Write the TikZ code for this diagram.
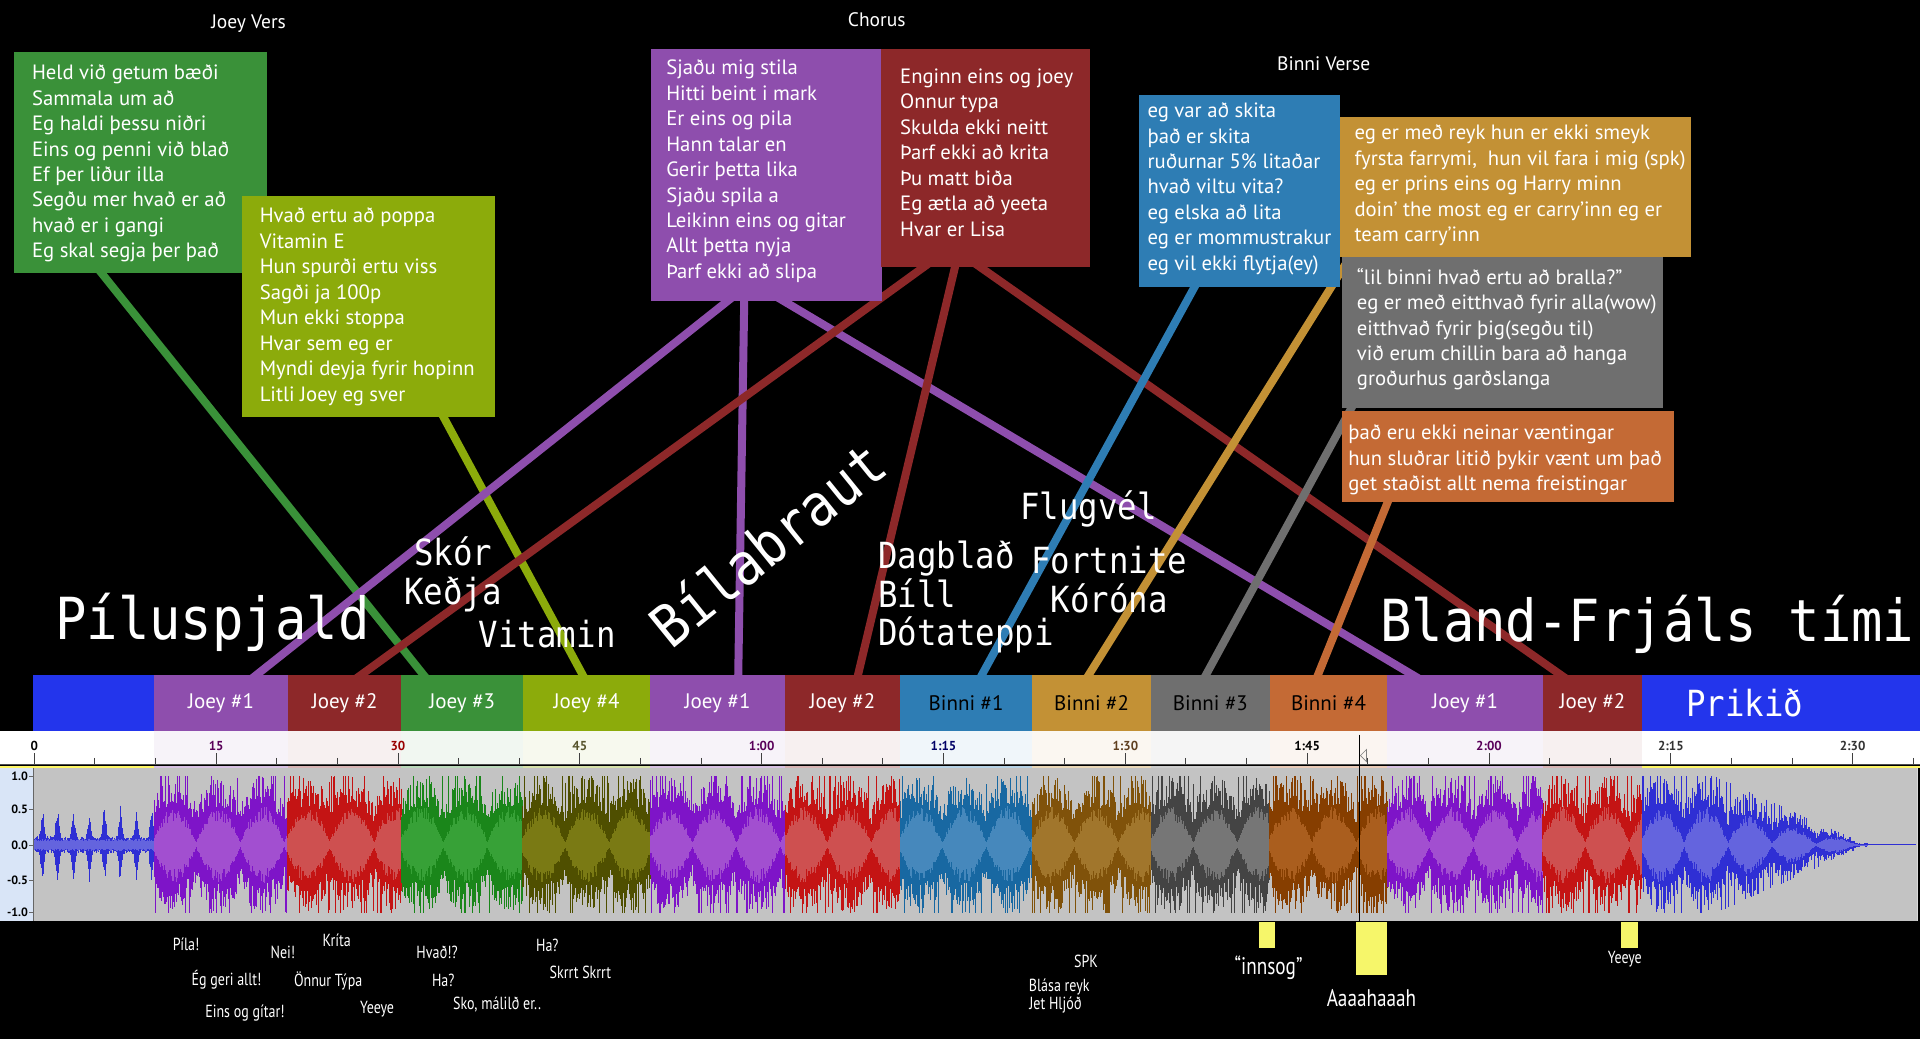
\documentclass[tikz,border=0pt]{standalone}
\usepackage{fontspec}
\setmainfont{PT Sans}
\newfontfamily\monof[FakeStretch=0.9]{DejaVu Sans Mono}
\newfontfamily\condf[FakeStretch=0.8]{PT Sans}
\usetikzlibrary{fit,calc}
\definecolor{cgreen}{HTML}{3A9139}
\definecolor{cyg}{HTML}{8CAB0B}
\definecolor{cpurple}{HTML}{8E4EAD}
\definecolor{cred}{HTML}{8D2829}
\definecolor{cblue}{HTML}{2E7DB4}
\definecolor{cgold}{HTML}{C39135}
\definecolor{cgray}{HTML}{6F6F6F}
\definecolor{corange}{HTML}{C46A35}
\definecolor{cbright}{HTML}{2335EC}
\definecolor{wbD}{HTML}{2F2FD4}\definecolor{wbL}{HTML}{6464DE}
\definecolor{wpD}{HTML}{7E14C8}\definecolor{wpL}{HTML}{A24FD0}
\definecolor{wrD}{HTML}{C41414}\definecolor{wrL}{HTML}{CE5050}
\definecolor{wgD}{HTML}{1A861A}\definecolor{wgL}{HTML}{37A137}
\definecolor{woD}{HTML}{4F4F00}\definecolor{woL}{HTML}{7A7A14}
\definecolor{wsD}{HTML}{1868A2}\definecolor{wsL}{HTML}{4688BC}
\definecolor{wnD}{HTML}{80520A}\definecolor{wnL}{HTML}{A1762C}
\definecolor{wkD}{HTML}{444444}\definecolor{wkL}{HTML}{767676}
\definecolor{weD}{HTML}{863E00}\definecolor{weL}{HTML}{AA5E1E}
\definecolor{wavebg}{HTML}{C3C3C3}
\definecolor{panelblue}{HTML}{D9E5F7}
\definecolor{hiyel}{HTML}{F6F66A}

\newcommand\lyr[4]{\foreach \t [count=\k] in {#4}{\node[lyr] (#1-\k) at (#2,{#3+(\k-1)*20.8}) {\t};}}
% outer: swelling pulse envelope with random spikes; inner: pinching light band
\newcommand\wmain[4]{%
  \pgfmathtruncatemacro\wn{(#2-#1)/0.8}%
  \draw[#3, line width=0.8pt] \foreach \i in {0,...,\wn}{
    ({#1+\i*0.8},{690-min(56,56*(0.45+0.55*sin(180*frac(\i*0.8/36+0.05))^0.5)*(0.55+0.45*rnd)+32*(rnd>0.88))}) -- ({#1+\i*0.8},{690+min(56,56*(0.45+0.55*sin(180*frac(\i*0.8/36+0.05))^0.5)*(0.55+0.45*rnd)+32*(rnd>0.88))}) };
  \draw[#4, line width=0.8pt] \foreach \i in {0,...,\wn}{
    ({#1+\i*0.8},{690-(1.5+30*sin(180*frac(\i*0.8/36+0.05))^0.9*(0.6+0.4*rnd))}) -- ({#1+\i*0.8},{690+(1.5+30*sin(180*frac(\i*0.8/36+0.05))^0.9*(0.6+0.4*rnd))}) };
}

\begin{document}
\begin{tikzpicture}[x=1.2245pt,y=-1.2245pt,
  lyr/.style={font=\fontsize{20.7}{25}\selectfont, text=white, anchor=base west, inner sep=0},
  ttl/.style={font=\fontsize{19.5}{23}\selectfont, text=white, inner sep=0},
  boxst/.style={inner sep=0, draw=none},
  seglbl/.style={font=\fontsize{21}{24}\selectfont, inner sep=0},
  monoL/.style={font=\monof\fontsize{58}{60}\selectfont, text=white, inner sep=0, anchor=base west},
  monoS/.style={font=\monof\fontsize{36}{40}\selectfont, text=white, inner sep=0, anchor=base west},
  conn/.style={line width=8pt},
  lowlbl/.style={font=\condf\fontsize{17.5}{19}\selectfont, text=white, inner sep=0},
  biglbl/.style={font=\condf\fontsize{24}{26}\selectfont, text=white, inner sep=0},
  rlbl/.style={font=\bfseries\fontsize{13}{15}\selectfont, inner sep=0},
  alb/.style={font=\bfseries\fontsize{12}{14}\selectfont, inner sep=0, anchor=east}]
\useasboundingbox (0,0) rectangle (1568,848.5);
\fill[black] (0,0) rectangle (1568,848.5);

\node[boxst, fit={(12,43) (218,223)}] (jv1) {};
\node[boxst, fit={(198,160) (404,340)}] (jv2) {};
\node[boxst, fit={(532,40) (720,246)}] (ch1) {};
\node[boxst, fit={(720,40) (890,218)}] (ch2) {};
\node[boxst, fit={(930,78) (1094,234)}] (bv1) {};
\node[boxst, fit={(1094,96) (1381,210)}] (bv2) {};
\node[boxst, fit={(1096,210) (1358,333)}] (bv3) {};
\node[boxst, fit={(1096,336) (1367,410)}] (bv4) {};
\foreach \nm/\xa/\xb in {s0/27/126, s1/126/235, s2/235/328, s3/328/427, s4/427/531, s5/531/641, s6/641/735, s7/735/843, s8/843/940, s9/940/1037, s10/1037/1133, s11/1133/1260, s12/1260/1341, s13/1341/1568}
  {\node[boxst, fit={(\xa,551) (\xb,597)}] (\nm) {};}

% connectors
\draw[conn, cgreen] ($(jv1.south west)+(68,-4)$) -- ($(s3.north west)+(21,4)$);
\draw[conn, cyg] ($(jv2.south west)+(162,-4)$) -- ($(s4.north west)+(51,4)$);
\draw[conn, cpurple] ($(ch1.south west)+(67,-4)$) -- ($(s1.north west)+(79,4)$);
\draw[conn, cpurple] ($(ch1.south west)+(76,-4)$) -- ($(s5.north west)+(72,4)$);
\draw[conn, cpurple] ($(ch1.south west)+(102,-4)$) -- ($(s11.north west)+(27,4)$);
\draw[conn, cred] ($(ch2.south west)+(40,-4)$) -- ($(s2.north west)+(55,4)$);
\draw[conn, cred] ($(ch2.south west)+(61,-4)$) -- ($(s6.north west)+(59,4)$);
\draw[conn, cred] ($(ch2.south west)+(75,-4)$) -- ($(s12.north west)+(20,4)$);
\draw[conn, cblue] ($(bv1.south west)+(48,-4)$) -- ($(s7.north west)+(65,4)$);
\draw[conn, cgold] ($(bv2.south west)+(11,-4)$) -- ($(s8.north west)+(44,4)$);
\draw[conn, cgray] ($(bv3.south west)+(10,-4)$) -- ($(s9.north west)+(43,4)$);
\draw[conn, corange] ($(bv4.south west)+(39,-4)$) -- ($(s10.north west)+(38,4)$);

% box fills
\fill[cgreen] (jv1.north west) rectangle (jv1.south east);
\fill[cyg] (jv2.north west) rectangle (jv2.south east);
\fill[cpurple] (ch1.north west) rectangle (ch1.south east);
\fill[cred] (ch2.north west) rectangle (ch2.south east);
\fill[cgold] (bv2.north west) rectangle (bv2.south east);
\fill[cgray] (bv3.north west) rectangle (bv3.south east);
\fill[corange] (bv4.north west) rectangle (bv4.south east);
\fill[cblue] (bv1.north west) rectangle (bv1.south east);

% titles
\node[ttl] (tjv) at (203,19) {Joey Vers};
\node[ttl] (tch) at (716,16) {Chorus};
\node[ttl] (tbv) at (1081,52) {Binni Verse};

% lyrics
\lyr{ljv1}{26}{65}{Held við getum bæði, Sammala um að, Eg haldi þessu niðri, Eins og penni við blað, Ef þer liður illa, Segðu mer hvað er að, hvað er i gangi, Eg skal segja þer það}
\lyr{ljv2}{212}{182}{Hvað ertu að poppa, Vitamin E, Hun spurði ertu viss, Sagði ja 100p, Mun ekki stoppa, Hvar sem eg er, Myndi deyja fyrir hopinn, Litli Joey eg sver}
\lyr{lch1}{544}{61}{Sjaðu mig stila, Hitti beint i mark, Er eins og pila, Hann talar en, Gerir þetta lika, Sjaðu spila a, Leikinn eins og gitar, Allt þetta nyja, Þarf ekki að slipa}
\lyr{lch2}{735}{68}{Enginn eins og joey, Onnur typa, Skulda ekki neitt, Þarf ekki að krita, Þu matt biða, Eg ætla að yeeta, Hvar er Lisa}
\lyr{lbv1}{937}{96}{eg var að skita, það er skita, ruðurnar 5\% litaðar, hvað viltu vita?, eg elska að lita, eg er mommustrakur, eg vil ekki flytja(ey)}
\lyr{lbv2}{1106}{114}{eg er með reyk hun er ekki smeyk, {fyrsta farrymi,\ \ hun vil fara i mig (spk)}, eg er prins eins og Harry minn, doin’ the most eg er carry’inn eg er, team carry’inn}
\lyr{lbv3}{1108}{232}{“lil binni hvað ertu að bralla?”, eg er með eitthvað fyrir alla(wow), eitthvað fyrir þig(segðu til), við erum chillin bara að hanga, groðurhus garðslanga}
\lyr{lbv4}{1101}{359}{það eru ekki neinar væntingar, hun sluðrar litið þykir vænt um það, get staðist allt nema freistingar}

% section bar
\foreach \nm/\cc in {s0/cbright, s1/cpurple, s2/cred, s3/cgreen, s4/cyg, s5/cpurple, s6/cred, s7/cblue, s8/cgold, s9/cgray, s10/corange, s11/cpurple, s12/cred, s13/cbright}
  {\fill[\cc] (\nm.north west) rectangle (\nm.south east);}
\foreach \nm/\tx/\tc in {s1/Joey \#1/white, s2/Joey \#2/white, s3/Joey \#3/white, s4/Joey \#4/white, s5/Joey \#1/white, s6/Joey \#2/white, s7/Binni \#1/black, s8/Binni \#2/black, s9/Binni \#3/black, s10/Binni \#4/black, s11/Joey \#1/white, s12/Joey \#2/white}
  {\node[seglbl, text=\tc] (\nm-l) at (\nm.center) {\tx};}
\node[monoS, anchor=center] (prik) at (1425,574) {Prikið};

% mono labels
\node[monoL] (pilu) at (45,522) {Píluspjald};
\node[monoS] (skor) at (338,462) {Skór};
\node[monoS] (kedja) at (330,494) {Keðja};
\node[monoS] (vita) at (391,529) {Vitamin};
\node[monoL, rotate=39] (bila) at (548,531) {Bílabraut};
\node[monoS] (dagb) at (717,464) {Dagblað};
\node[monoS] (bill) at (717,496) {Bíll};
\node[monoS] (dota) at (717,527) {Dótateppi};
\node[monoS] (flug) at (833,424) {Flugvél};
\node[monoS] (fort) at (842,468) {Fortnite};
\node[monoS] (koro) at (858,500) {Kóróna};
\node[monoL] (bland) at (1127,524) {Bland-Frjáls tími};

% ruler
\fill[white] (0,597) rectangle (1568,625);
\foreach \nm/\cc in {s1/cpurple, s2/cred, s3/cgreen, s4/cyg, s5/cpurple, s6/cred, s7/cblue, s8/cgold, s9/cgray, s10/corange, s11/cpurple, s12/cred}
  {\fill[\cc!7!white] (\nm.south west) rectangle ($(\nm.south east)+(0,27)$);
   \fill[\cc!35!white] ($(\nm.south west)+(0,28.5)$) rectangle ($(\nm.south east)+(0,30)$);}
\fill[yellow!60!white] (0,625.5) rectangle (126,627);
\fill[yellow!60!white] (1341,625.5) rectangle (1568,627);
\draw[black!70, line width=1.4pt] (0,624.5) -- (1568,624.5);
\foreach \k in {0,...,31}{\draw[black!75, line width=0.9pt] ({28+\k*49.5},619) -- ({28+\k*49.5},624);}
\foreach \k/\tx/\tc in {0/0/black, 1/15/violet!70!black, 2/30/red!60!black, 3/45/olive!50!black, 4/1:00/violet!70!black, 5/1:15/blue!40!black, 6/1:30/brown!50!black, 7/1:45/black, 8/2:00/violet!70!black, 9/2:15/black!80, 10/2:30/black!80}
  {\node[rlbl, text=\tc] (rl\k) at ({28+\k*148.5},609) {\tx};
   \draw[black!75, line width=0.9pt] ({28+\k*148.5},615) -- ({28+\k*148.5},624);}

% waveform area
\fill[wavebg] (27,627) rectangle (1566,752);
\draw[white!85!black, line width=0.8pt] (1566,627) -- (1566,752);
\fill[panelblue] (0,627) rectangle (27,752);
\draw[black!60, line width=0.6pt] (27,627) -- (27,752);
\foreach \v/\yy in {1.0/634, 0.5/661, 0.0/690, -0.5/719, -1.0/745}
  {\node[alb] (a\yy) at (23,\yy) {\v}; \draw[black!60] (24,\yy) -- (27,\yy);}

\pgfmathsetseed{11}
% intro
\draw[wbD, line width=0.8pt] \foreach \i in {0,...,122}{
  ({28+\i*0.8},{690-(4+3*rnd+26*abs(sin(\i*11.25))^10*(0.55+0.45*rnd))}) -- ({28+\i*0.8},{690+(4+3*rnd+26*abs(sin(\i*11.25))^10*(0.55+0.45*rnd))}) };
\draw[wbL, line width=0.8pt] \foreach \i in {0,...,122}{
  ({28+\i*0.8},{690-(3+2*rnd)}) -- ({28+\i*0.8},{690+(3+2*rnd)}) };
\wmain{126}{235}{wpD}{wpL}
\wmain{235}{328}{wrD}{wrL}
\wmain{328}{427}{wgD}{wgL}
\wmain{427}{531}{woD}{woL}
\wmain{531}{641}{wpD}{wpL}
\wmain{641}{735}{wrD}{wrL}
\wmain{735}{843}{wsD}{wsL}
\wmain{843}{940}{wnD}{wnL}
\wmain{940}{1037}{wkD}{wkL}
\wmain{1037}{1133}{weD}{weL}
\wmain{1133}{1260}{wpD}{wpL}
\wmain{1260}{1341}{wrD}{wrL}
% outro
\draw[wbD, line width=0.8pt] \foreach \i in {0,...,230}{
  ({1341+\i*0.8},{690-min(1,max(0.03,(184-\i*0.8)/125))*min(56,56*(0.45+0.55*sin(180*frac(\i*0.8/36+0.05))^0.5)*(0.55+0.45*rnd)+32*(rnd>0.88))}) -- ({1341+\i*0.8},{690+min(1,max(0.03,(184-\i*0.8)/125))*min(56,56*(0.45+0.55*sin(180*frac(\i*0.8/36+0.05))^0.5)*(0.55+0.45*rnd)+32*(rnd>0.88))}) };
\draw[wbL, line width=0.8pt] \foreach \i in {0,...,230}{
  ({1341+\i*0.8},{690-min(1,max(0.02,(184-\i*0.8)/125))*(1.5+30*sin(180*frac(\i*0.8/36+0.05))^0.9*(0.6+0.4*rnd))}) -- ({1341+\i*0.8},{690+min(1,max(0.02,(184-\i*0.8)/125))*(1.5+30*sin(180*frac(\i*0.8/36+0.05))^0.9*(0.6+0.4*rnd))}) };
\draw[wbD, line width=1pt] (1524,690) -- (1565,690);

% playback cursor
\draw[black, line width=1.1pt] (1110,600) -- (1110,752);
\draw[black!50, line width=0.6pt] (1116,612) -- (1111,617) -- (1116,622) -- cycle;

% highlight bars
\node[boxst, fill=hiyel, fit={(1028,753) (1041,774)}] (y1) {};
\node[boxst, fill=hiyel, fit={(1107,753) (1133,796)}] (y2) {};
\node[boxst, fill=hiyel, fit={(1324,753) (1338,774)}] (y3) {};

% bottom labels
\node[lowlbl] (b1) at (152,771) {Píla!};
\node[lowlbl] (b2) at (231,778) {Nei!};
\node[lowlbl] (b3) at (275,768) {Kríta};
\node[lowlbl] (b4) at (185,800) {Ég geri allt!};
\node[lowlbl] (b5) at (268,801) {Önnur Týpa};
\node[lowlbl] (b6) at (200,827) {Eins og gítar!};
\node[lowlbl] (b7) at (308,824) {Yeeye};
\node[lowlbl] (b8) at (357,778) {Hvað!?};
\node[lowlbl] (b9) at (362,801) {Ha?};
\node[lowlbl] (b10) at (406,820) {Sko, málilð er..};
\node[lowlbl] (b11) at (447,772) {Ha?};
\node[lowlbl] (b12) at (474,794) {Skrrt Skrrt};
\node[lowlbl] (b13) at (887,785) {SPK};
\node[lowlbl] (b14) at (865,806) {Blása reyk};
\node[lowlbl] (b15) at (862,821) {Jet Hljóð};
\node[biglbl] (b16) at (1036,790) {“innsog”};
\node[biglbl] (b17) at (1120,815) {Aaaahaaah};
\node[lowlbl] (b18) at (1327,783) {Yeeye};
\end{tikzpicture}
\end{document}
